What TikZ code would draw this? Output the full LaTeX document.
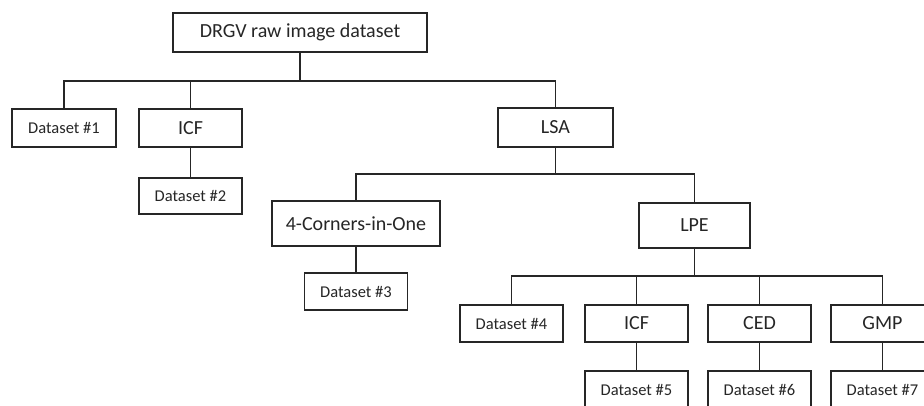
\documentclass[tikz,border=0pt]{standalone}
\usepackage{fontspec}
\setmainfont{Carlito}
\begin{document}
\begin{tikzpicture}[x=1pt,y=-1pt,
  box/.style={draw=black!85, line width=1.7pt, rectangle, inner sep=0pt,
    minimum width=103pt, minimum height=37pt, text=black!85,
    font=\fontsize{20}{22}\selectfont},
  dsbox/.style={box, font=\fontsize{16.5}{18}\selectfont},
  link/.style={draw=black!85, line width=1.7pt}]
\clip (0,0) rectangle (924,406);
\fill[white] (0,0) rectangle (924,406);

% nodes
\node[box, minimum width=254pt, minimum height=39pt] (root) at (300,32.5) {DRGV raw image dataset};
\node[dsbox, minimum width=104pt, minimum height=38pt] (ds1) at (64,128) {Dataset \#1};
\node[box, minimum height=38pt] (icfa) at (190.5,128) {ICF};
\node[dsbox, minimum height=36pt] (ds2) at (190.5,196) {Dataset \#2};
\node[box, minimum width=115pt, minimum height=39pt] (lsa) at (555.5,127.5) {LSA};
\node[box, minimum width=168pt, minimum height=45pt] (corners) at (356,223.5) {4-Corners-in-One};
\node[dsbox] (ds3) at (356,291.5) {Dataset \#3};
\node[box, minimum width=111pt, minimum height=45pt] (lpe) at (694.5,225.5) {LPE};
\node[dsbox] (ds4) at (511.5,323.5) {Dataset \#4};
\node[box] (icfb) at (636.5,323.5) {ICF};
\node[box] (ced) at (759.5,323.5) {CED};
\node[box] (gmp) at (882.5,323.5) {GMP};
\node[dsbox] (ds5) at (636.5,389.5) {Dataset \#5};
\node[dsbox] (ds6) at (759.5,389.5) {Dataset \#6};
\node[dsbox] (ds7) at (882.5,389.5) {Dataset \#7};

% bus levels
\coordinate (busa) at (0,81);
\coordinate (busb) at (0,174);
\coordinate (busc) at (0,276);

% connectors
\foreach \c in {ds1,icfa,lsa}
  \draw[link] (root.south) -- (root.south |- busa) -| (\c.north);
\draw[link] (icfa.south) -- (ds2.north);
\foreach \c in {corners,lpe}
  \draw[link] (lsa.south) -- (lsa.south |- busb) -| (\c.north);
\draw[link] (corners.south) -- (ds3.north);
\foreach \c in {ds4,icfb,ced,gmp}
  \draw[link] (lpe.south) -- (lpe.south |- busc) -| (\c.north);
\draw[link] (icfb.south) -- (ds5.north);
\draw[link] (ced.south) -- (ds6.north);
\draw[link] (gmp.south) -- (ds7.north);
\end{tikzpicture}
\end{document}
